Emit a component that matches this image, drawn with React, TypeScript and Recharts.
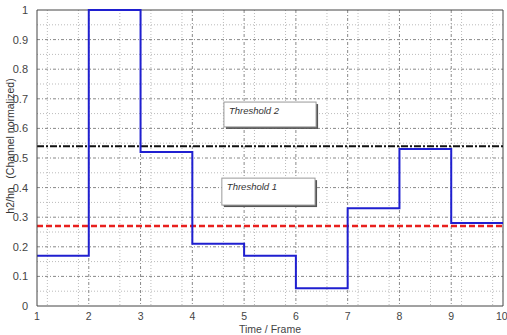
import React from 'react';
import { LineChart, Line, XAxis, YAxis, ReferenceLine, ReferenceArea, CartesianGrid } from 'recharts';

const frames = [1, 2, 3, 4, 5, 6, 7, 8, 9, 10];
const ratio = [0.17, 1.0, 0.52, 0.21, 0.17, 0.06, 0.33, 0.53, 0.28, 0.28];
const xTicks = [1, 2, 3, 4, 5, 6, 7, 8, 9, 10];
const yTicks = [0, 0.1, 0.2, 0.3, 0.4, 0.5, 0.6, 0.7, 0.8, 0.9, 1];
const threshold1 = 0.27;
const threshold2 = 0.54;
const box2 = { x1: 4.61, x2: 6.39, y1: 0.605, y2: 0.689, text: 'Threshold 2' };
const box1 = { x1: 4.57, x2: 6.37, y1: 0.341, y2: 0.432, text: 'Threshold 1' };
const yLabelText = 'h2/hn\u00A0\u00A0\u00A0(Channel normalized)';
const xLabelText = 'Time / Frame';

const data = frames.map((f, i) => ({ frame: f, value: ratio[i] }));

const xMinor: number[] = [];
for (let i = 0; i < xTicks.length - 1; i++) {
  for (let k = 1; k < 5; k++) xMinor.push(+(xTicks[i] + k * 0.2).toFixed(2));
}
const yMinor: number[] = [];
for (let i = 0; i < yTicks.length - 1; i++) yMinor.push(+(yTicks[i] + 0.05).toFixed(3));

const FONT = '"Liberation Sans", Arial, sans-serif';

const BoxShape = (label: string) => (props: any) => {
  const { x, y, width, height } = props;
  return (
    <g>
      <rect x={x + 2} y={y + 2} width={width} height={height} fill="#555" />
      <rect x={x} y={y} width={width} height={height} fill="#fff" stroke="#999" strokeWidth={1} />
      <text x={x + 5} y={y + 12} fontSize={9.5} fontStyle="italic" fill="#333" fontFamily={FONT}>
        {label}
      </text>
    </g>
  );
};

export default function App() {
  return (
    <div style={{ position: 'absolute', left: 0, top: 0, width: 507, height: 335, background: '#fff' }}>
      <LineChart width={507} height={335} data={data} margin={{ top: 10, right: 4, bottom: 0, left: 0 }}>
        <CartesianGrid
          horizontalValues={yMinor}
          verticalValues={xMinor}
          stroke="#bbb"
          strokeDasharray="1 2"
        />
        <CartesianGrid
          horizontalValues={yTicks.slice(1, -1)}
          verticalValues={xTicks.slice(1, -1)}
          stroke="#888"
          strokeDasharray="3 2 1 2"
        />
        <XAxis
          dataKey="frame"
          type="number"
          domain={[1, 10]}
          ticks={xTicks}
          height={29}
          tickLine={false}
          tickMargin={1}
          stroke="#444"
          tick={{ fontSize: 10.5, fill: '#444', fontFamily: FONT }}
          label={{ value: xLabelText, position: 'insideBottom', offset: 2, fontSize: 10.5, fill: '#444', fontFamily: FONT }}
        />
        <YAxis
          type="number"
          domain={[0, 1]}
          ticks={yTicks}
          width={37}
          tickLine={false}
          tickMargin={3}
          stroke="#444"
          tick={{ fontSize: 11, fill: '#444', fontFamily: FONT }}
        />
        <ReferenceLine y={1} stroke="#444" />
        <ReferenceLine x={10} stroke="#444" />
        <ReferenceArea x1={box2.x1} x2={box2.x2} y1={box2.y1} y2={box2.y2} shape={BoxShape(box2.text)} ifOverflow="visible" />
        <ReferenceArea x1={box1.x1} x2={box1.x2} y1={box1.y1} y2={box1.y2} shape={BoxShape(box1.text)} ifOverflow="visible" />
        <ReferenceLine y={threshold2} stroke="#111" strokeWidth={2} strokeDasharray="7 2 2 2" />
        <ReferenceLine y={threshold1} stroke="#e8201e" strokeWidth={2.5} strokeDasharray="6 3" />
        <Line
          type="stepAfter"
          dataKey="value"
          stroke="#1f1fd0"
          strokeWidth={2}
          dot={false}
          activeDot={false}
          isAnimationActive={false}
        />
      </LineChart>
      <svg
        width={20}
        height={335}
        style={{ position: 'absolute', left: 0, top: 0, pointerEvents: 'none' }}
      >
        <text
          x={0}
          y={0}
          transform="translate(14,146) rotate(-90)"
          textAnchor="middle"
          fontSize={10.5}
          fill="#333"
          fontFamily={FONT}
        >
          {yLabelText}
        </text>
      </svg>
    </div>
  );
}
